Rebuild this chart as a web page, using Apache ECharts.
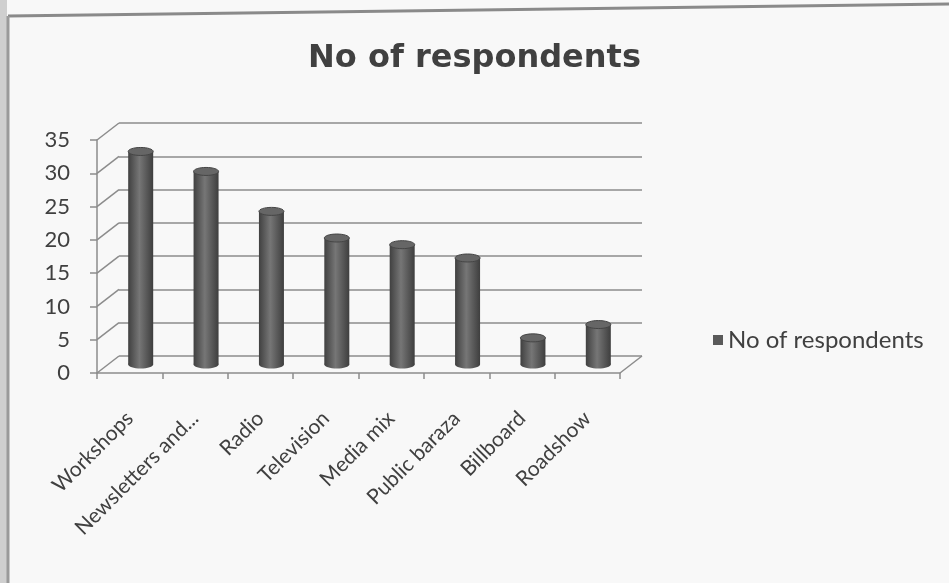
<!DOCTYPE html>
<html>
<head>
<meta charset="utf-8">
<script src="https://cdn.jsdelivr.net/npm/echarts@6/dist/echarts.min.js"></script>
<style>
  html, body { margin: 0; padding: 0; background: #e6e6e6; }
  #main { width: 949px; height: 583px; }
</style>
</head>
<body>
<div id="main"></div>
<script>
// data
var categories = ['Workshops', 'Newsletters and...', 'Radio', 'Television', 'Media mix', 'Public baraza', 'Billboard', 'Roadshow'];
var respondents = [32, 29, 23, 19, 18, 16, 4, 6];
var yTicks = [0, 5, 10, 15, 20, 25, 30, 35];
var seriesName = 'No of respondents';

// 3d depth offset of the back wall (px)
var DX = 22, DY = -17;
var BAR_W = 25;
var textColor = '#404040';
var lineColor = '#8c8c8c';

var chart = echarts.init(document.getElementById('main'));

// cylinder body
function renderCylinder(params, api) {
    var base = api.coord([api.value(0), 0]);
    var top = api.coord([api.value(0), api.value(1)]);
    var cx = base[0] + DX / 2, by = base[1] + DY / 2, ty = top[1] + DY / 2;
    var rx = BAR_W / 2, ry = 4;
    var grad = new echarts.graphic.LinearGradient(0, 0, 1, 0, [
        {offset: 0, color: '#404040'},
        {offset: 0.45, color: '#767676'},
        {offset: 1, color: '#3e3e3e'}
    ]);
    return {
        type: 'group',
        children: [
            {type: 'ellipse', shape: {cx: cx, cy: by, rx: rx, ry: ry}, style: {fill: grad}},
            {type: 'rect', shape: {x: cx - rx, y: ty, width: BAR_W, height: by - ty}, style: {fill: grad}},
            {type: 'ellipse', shape: {cx: cx, cy: ty, rx: rx, ry: ry}, style: {fill: '#666666', stroke: '#454545', lineWidth: 1}}
        ]
    };
}

// diagonal lines from the front y axis to the back wall
function renderDiagonal(params, api) {
    var p = api.coord([0, api.value(0)]);
    var half = api.size([1, 0])[0] / 2;
    var x = p[0] - half;
    return {
        type: 'line',
        shape: {x1: x, y1: p[1], x2: x + DX, y2: p[1] + DY},
        style: {stroke: lineColor, lineWidth: 1.5}
    };
}

// right edge of the floor
function renderFloorEdge(params, api) {
    var p = api.coord([categories.length - 1, 0]);
    var half = api.size([1, 0])[0] / 2;
    var x = p[0] + half;
    return {
        type: 'line',
        shape: {x1: x, y1: p[1], x2: x + DX, y2: p[1] + DY},
        style: {stroke: lineColor, lineWidth: 1.5}
    };
}

var option = {
    backgroundColor: '#f8f8f8',
    animation: false,
    title: {
        text: seriesName,
        left: 'center',
        top: 38,
        textStyle: {fontFamily: 'DejaVu Sans', fontWeight: 'bold', fontSize: 32, color: textColor}
    },
    legend: {
        data: [{name: seriesName, icon: 'rect'}],
        left: 708,
        top: 323,
        itemWidth: 10,
        itemHeight: 10,
        itemGap: 5,
        textStyle: {fontFamily: 'Lato', fontSize: 24, color: textColor}
    },
    grid: [
        {left: 97, right: 329, top: 140, bottom: 210},
        {left: 119, right: 307, top: 123, bottom: 227}
    ],
    xAxis: [
        {
            type: 'category', gridIndex: 0, data: categories,
            axisLine: {lineStyle: {color: lineColor, width: 1.5}},
            axisTick: {show: true, length: 6, lineStyle: {color: lineColor, width: 1.5}},
            axisLabel: {rotate: 45, margin: 42, interval: 0, fontFamily: 'Lato', fontSize: 21, color: textColor}
        },
        {
            type: 'category', gridIndex: 1, data: categories, show: false
        }
    ],
    yAxis: [
        {
            type: 'value', gridIndex: 0, min: 0, max: 35, interval: 5,
            axisLine: {show: true, lineStyle: {color: lineColor, width: 1.5}},
            axisTick: {show: true, length: 7, lineStyle: {color: lineColor, width: 1.5}},
            axisLabel: {margin: 27, fontFamily: 'Lato', fontSize: 22, color: textColor,
                formatter: function (v) { return yTicks.indexOf(v) >= 0 ? String(v) : ''; }},
            splitLine: {show: false}
        },
        {
            type: 'value', gridIndex: 1, min: 0, max: 35, interval: 5,
            axisLine: {show: false}, axisTick: {show: false}, axisLabel: {show: false},
            splitLine: {show: true, lineStyle: {color: lineColor, width: 1.5}}
        }
    ],
    series: [
        {
            type: 'custom', name: 'diag', xAxisIndex: 0, yAxisIndex: 0,
            data: yTicks.map(function (v) { return [v]; }),
            encode: {y: 0}, renderItem: renderDiagonal, silent: true, z: 1
        },
        {
            type: 'custom', name: 'floor', xAxisIndex: 0, yAxisIndex: 0,
            data: [[0]], encode: {y: 0}, renderItem: renderFloorEdge, silent: true, z: 1
        },
        {
            type: 'custom', name: seriesName, xAxisIndex: 0, yAxisIndex: 0,
            itemStyle: {color: '#5a5a5a'},
            data: respondents.map(function (v, i) { return [i, v]; }),
            encode: {x: 0, y: 1}, renderItem: renderCylinder, z: 3
        }
    ],
    graphic: [
        // scanned page border
        {type: 'rect', left: 0, top: 0, shape: {width: 7, height: 583}, style: {fill: '#cfcfcf'}, silent: true},
        {type: 'line', shape: {x1: 8, y1: 16, x2: 949, y2: 4}, style: {stroke: '#8a8a8a', lineWidth: 3}, silent: true},
        {type: 'line', shape: {x1: 8, y1: 16, x2: 8, y2: 583}, style: {stroke: '#9a9a9a', lineWidth: 3}, silent: true}
    ]
};

chart.setOption(option);
</script>
</body>
</html>
